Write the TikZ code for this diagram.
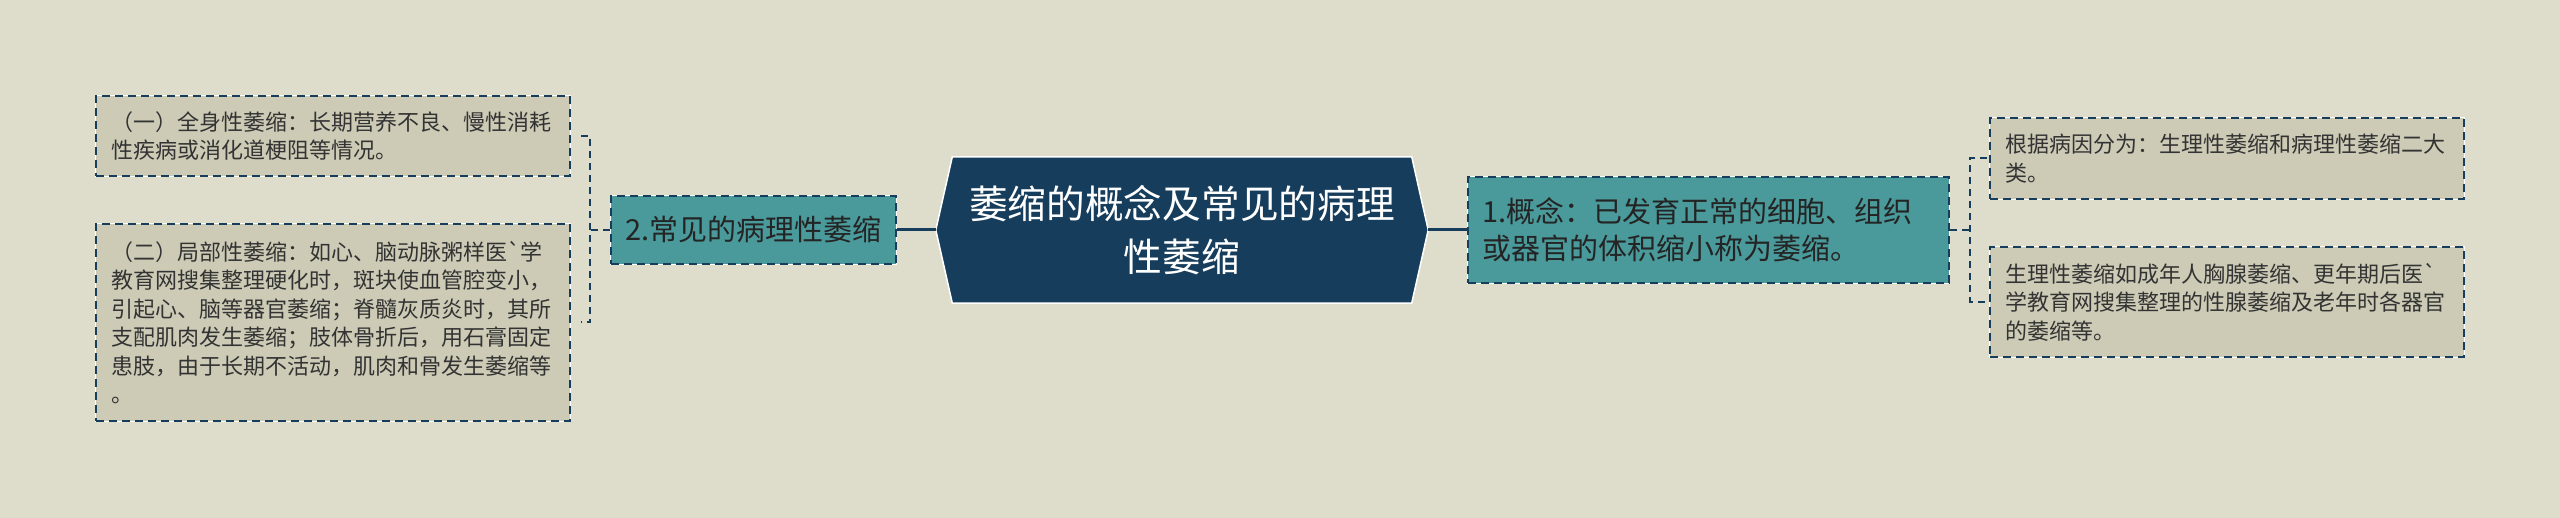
\documentclass[tikz,border=0pt]{standalone}
\usepackage{fontspec}
\setmainfont{Noto Sans CJK SC}
\font\gravefont="Noto Sans CJK SC" at 22pt
\newcommand{\grv}{{\gravefont\char96}}
\usetikzlibrary{backgrounds}
\definecolor{bg}{HTML}{DEDDCC}
\definecolor{navy}{HTML}{163D5C}
\definecolor{teal2}{HTML}{4A9A9B}
\definecolor{leaffill}{HTML}{CDCBB6}
\definecolor{leaftext}{HTML}{333333}
\definecolor{midtext}{HTML}{242424}
\tikzset{
  dashedborder/.style={draw=navy, line width=2pt, dash pattern=on 8pt off 5pt,
    preaction={draw=white, solid, line width=1.2pt}},
  leafbox/.style={dashedborder, fill=leaffill, text=leaftext, align=left,
    text width=444pt, inner xsep=15pt, inner ysep=0pt,
    font=\fontsize{22}{28.5}\selectfont},
  midbox/.style={dashedborder, fill=teal2, text=midtext, inner ysep=0pt,
    font=\fontsize{29}{37}\selectfont},
  conn/.style={draw=navy, line width=2pt, dash pattern=on 7pt off 5pt},
  solidconn/.style={draw=navy, line width=3pt},
}
\begin{document}
\begin{tikzpicture}[x=1pt,y=-1pt]
\useasboundingbox (0,0) rectangle (2560,518);
% leaf boxes left
\node[leafbox, minimum height=80pt] (L1) at (333,136)
  {（一）全身性萎缩：长期营养不良、慢性消耗\\性疾病或消化道梗阻等情况。};
\node[leafbox, minimum height=197pt] (L2) at (333,322.5)
  {（二）局部性萎缩：如心、脑动脉粥样医\grv 学\\教育网搜集整理硬化时，斑块使血管腔变小，\\引起心、脑等器官萎缩；脊髓灰质炎时，其所\\支配肌肉发生萎缩；肢体骨折后，用石膏固定\\患肢，由于长期不活动，肌肉和骨发生萎缩等\\。};
% mid nodes
\node[midbox, minimum width=285pt, minimum height=68pt] (N2) at (753.5,230)
  {2.常见的病理性萎缩};
\node[midbox, align=left, text width=452pt, inner xsep=14.5pt, minimum height=106pt] (N1) at (1708.5,230)
  {1.概念：已发育正常的细胞、组织\\或器官的体积缩小称为萎缩。};
% central
\node[text=white, align=center, minimum width=459pt, minimum height=146pt, inner sep=0pt,
  font=\fontsize{38.7}{53.5}\selectfont] (hex) at (1182,230)
  {萎缩的概念及常见的病理\\性萎缩};
\coordinate (hexW) at ([xshift=-16.5pt]hex.west);
\coordinate (hexE) at ([xshift=16.5pt]hex.east);
% right leaves
\node[leafbox, minimum height=81pt] (R1) at (2227,158.5)
  {根据病因分为：生理性萎缩和病理性萎缩二大\\类。};
\node[leafbox, minimum height=110pt] (R2) at (2227,302)
  {生理性萎缩如成年人胸腺萎缩、更年期后医\grv\\学教育网搜集整理的性腺萎缩及老年时各器官\\的萎缩等。};
% connectors
\draw[solidconn] (N2.east) -- (hexW);
\draw[solidconn] (hexE) -- (N1.west);
\draw[conn] (N2.west) -- ++(-20,0) coordinate (lb);
\draw[conn] ([xshift=10pt]L1.east) -| (lb) |- ([xshift=10pt]L2.east);
\draw[conn] (N1.east) -- ++(20,0) coordinate (rb);
\draw[conn] ([xshift=-2pt]R1.west) -| (rb) |- ([xshift=-2pt]R2.west);
\begin{scope}[on background layer]
  \fill[bg] (0,0) rectangle (2560,518);
  \filldraw[fill=navy, draw=white, line width=1.5pt]
    (hex.north west) -- (hex.north east) -- (hexE) -- (hex.south east)
    -- (hex.south west) -- (hexW) -- cycle;
\end{scope}
\end{tikzpicture}
\end{document}
